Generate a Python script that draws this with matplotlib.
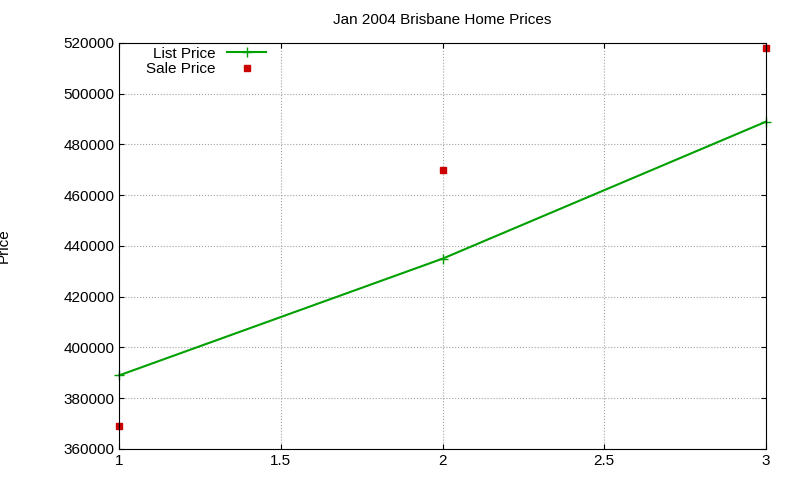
import matplotlib
matplotlib.use("Agg")
import matplotlib.pyplot as plt

x = [1, 2, 3]
list_price = [389000, 435000, 489000]
sale_price = [369000, 470000, 518000]
title = "Jan 2004 Brisbane Home Prices"

plt.rcParams['font.family'] = ['Liberation Sans', 'DejaVu Sans']
fig = plt.figure(figsize=(8, 4.8), dpi=100)
ax = fig.add_axes([119/800, 1-449/480, (766-119)/800, (449-43)/480])
ax.plot(x, list_price, color='#00a000', marker='+', markersize=7, lw=1.5, label='List Price', clip_on=False)
ax.plot(x, sale_price, color='#cc0000', marker='s', markersize=5, ls='none', label='Sale Price', clip_on=False)
ax.set_xlim(1, 3)
ax.set_ylim(360000, 520000)
ax.set_xticks([1, 1.5, 2, 2.5, 3])
ax.set_xticklabels(['1', '1.5', '2', '2.5', '3'])
ax.set_yticks(range(360000, 520001, 20000))
ax.grid(True, color='#a0a0a0', ls=':', lw=0.8)
ax.tick_params(direction='in', labelsize=11, top=True, right=True)
ax.set_ylabel('Price', fontsize=11, labelpad=38)
ax.set_title(title, fontsize=11, pad=14)
ax.legend(loc='upper left', bbox_to_anchor=(0.02, 1.025), frameon=False, markerfirst=False,
          fontsize=11, handlelength=2.5, labelspacing=0.1)
fig.savefig('out.png')
